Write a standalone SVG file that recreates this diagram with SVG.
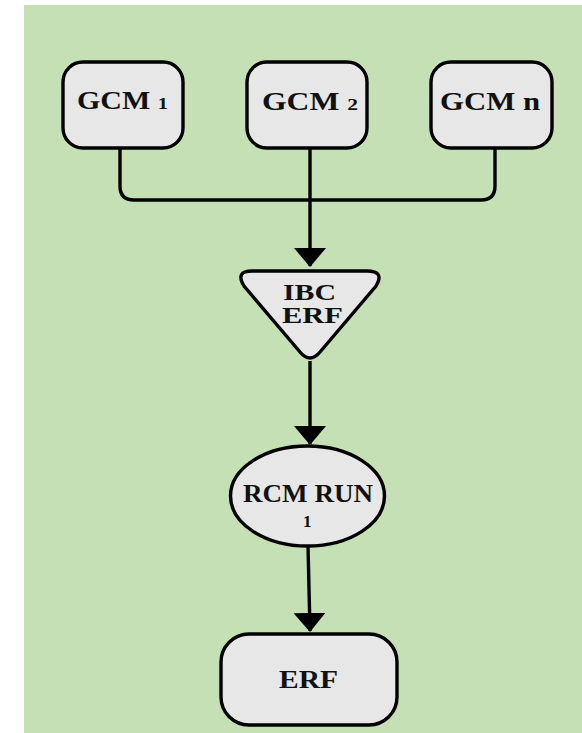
<svg xmlns="http://www.w3.org/2000/svg" width="582" height="733" viewBox="0 0 582 733">
<defs>
<style>
.bg{fill:#c5e0b4}
.node{fill:#e7e7e7;stroke:#000;stroke-width:3.4}
.lbl{font-family:"Liberation Serif","Times New Roman",serif;font-weight:bold;font-size:25px;fill:#111}
.tri{font-size:23px}
.sm{font-size:17px}
.con{fill:none;stroke:#000;stroke-width:3.4}
</style>
<marker id="arrd" markerUnits="userSpaceOnUse" markerWidth="19" markerHeight="32" viewBox="0 0 19 32" refX="18" refY="16" orient="auto">
<path d="M0,0 L19,16 L0,32 Z" fill="#000"/>
</marker>
</defs>
<rect class="bg" x="24" y="5" width="558" height="728"/>
<g id="connectors">
<path class="con" d="M120,148 V186 Q120,200 134,200 H481 Q495,200 495,186 V148"/>
<path class="con" d="M310,148 V266" marker-end="url(#arrd)"/>
<path class="con" d="M310,361 V444" marker-end="url(#arrd)"/>
<path class="con" d="M308,546 L310,631" marker-end="url(#arrd)"/>
</g>
<g id="gcm1">
<rect class="node" x="63" y="62" width="120" height="86" rx="20"/>
<text class="lbl" x="77" y="109" textLength="91" lengthAdjust="spacingAndGlyphs">GCM <tspan class="sm">1</tspan></text>
</g>
<g id="gcm2">
<rect class="node" x="247" y="62" width="120" height="86" rx="20"/>
<text class="lbl" x="262" y="110" textLength="96" lengthAdjust="spacingAndGlyphs">GCM <tspan class="sm">2</tspan></text>
</g>
<g id="gcmn">
<rect class="node" x="431" y="62" width="121" height="86" rx="20"/>
<text class="lbl" x="440" y="110" textLength="100" lengthAdjust="spacingAndGlyphs">GCM n</text>
</g>
<g id="ibc">
<path class="node" d="M252,271 H367 Q385,271 376,286 L320,352 Q310,364 300,352 L244,286 Q235,271 252,271 Z"/>
<text class="lbl tri" x="283" y="300" textLength="53" lengthAdjust="spacingAndGlyphs">IBC</text>
<text class="lbl tri" x="282" y="323" textLength="61" lengthAdjust="spacingAndGlyphs">ERF</text>
</g>
<g id="rcm">
<ellipse class="node" cx="307.5" cy="496" rx="77" ry="50"/>
<text class="lbl" x="243" y="502" textLength="130" lengthAdjust="spacingAndGlyphs">RCM RUN</text>
<text class="lbl sm" x="303" y="527">1</text>
</g>
<g id="erf">
<rect class="node" x="221" y="634" width="176" height="91" rx="28"/>
<text class="lbl" x="279" y="688" textLength="59" lengthAdjust="spacingAndGlyphs">ERF</text>
</g>
</svg>
